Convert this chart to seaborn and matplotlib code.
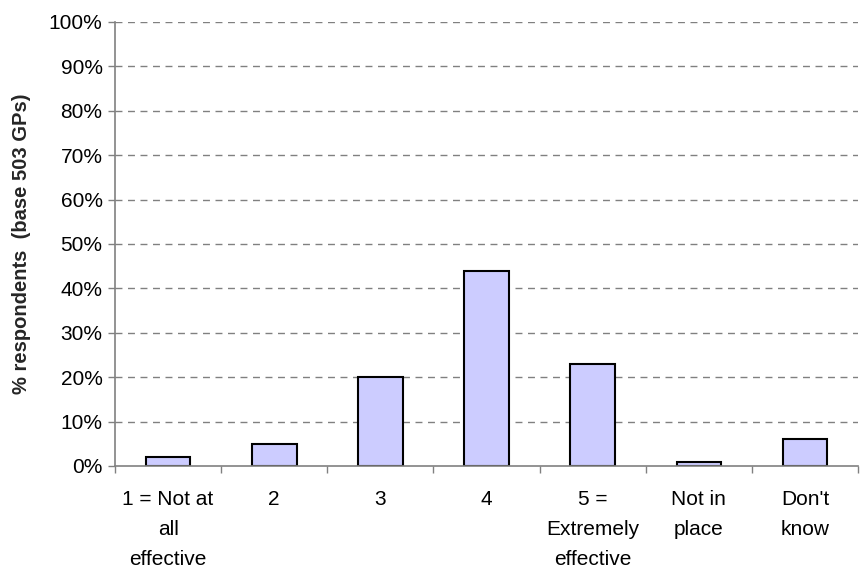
import matplotlib
matplotlib.use("Agg")
import matplotlib.pyplot as plt
import seaborn as sns
import numpy as np
import pandas as pd
from matplotlib.ticker import FixedLocator, PercentFormatter

categories = ["1 = Not at\nall\neffective", "2", "3", "4",
              "5 =\nExtremely\neffective", "Not in\nplace", "Don't\nknow"]
values = [2, 5, 20, 44, 23, 1, 6]
y_ticks = list(range(0, 101, 10))

sns.set_theme(style="white")
plt.rcParams["font.family"] = ["Liberation Sans", "DejaVu Sans"]

df = pd.DataFrame({"category": categories, "value": values})

fig = plt.figure(figsize=(8.66, 5.70), dpi=100)
ax = fig.add_axes([0.1328, 0.1825, 0.8580, 0.7790])

sns.barplot(data=df, x="category", y="value", ax=ax, color="#CCCCFF",
            saturation=1, width=0.42, edgecolor="black", linewidth=1.5, zorder=3)

ax.set_ylim(0, 100)
ax.set_xlim(-0.5, len(categories) - 0.5)
ax.yaxis.set_major_locator(FixedLocator(y_ticks))
ax.yaxis.set_major_formatter(PercentFormatter(decimals=0))

# dashed horizontal gridlines
for t in y_ticks[1:]:
    ax.axhline(t, color="#808080", linestyle=(0, (5, 4)), linewidth=1.0, zorder=1)

for side in ["top", "right"]:
    ax.spines[side].set_visible(False)
for side in ["left", "bottom"]:
    ax.spines[side].set_color("#808080")
    ax.spines[side].set_linewidth(1.2)
    ax.spines[side].set_zorder(4)

ax.tick_params(axis="y", which="major", direction="out", length=5, width=1,
               color="#808080", labelsize=15, labelcolor="black", pad=4, left=True)
# x tick marks sit between categories, labels at the centres
ax.xaxis.set_minor_locator(FixedLocator(np.arange(-0.5, len(categories), 1.0)))
ax.tick_params(axis="x", which="minor", direction="out", length=5, width=1,
               color="#808080", bottom=True)
ax.tick_params(axis="x", which="major", length=0, labelsize=15,
               labelcolor="black", pad=17)
for lab in ax.get_xticklabels():
    lab.set_linespacing(1.75)
    lab.set_verticalalignment("top")

ax.set_xlabel("")
ax.set_ylabel("% respondents  (base 503 GPs)", fontsize=14.5, fontweight="bold",
              labelpad=13)

fig.savefig("out.png", dpi=100)
